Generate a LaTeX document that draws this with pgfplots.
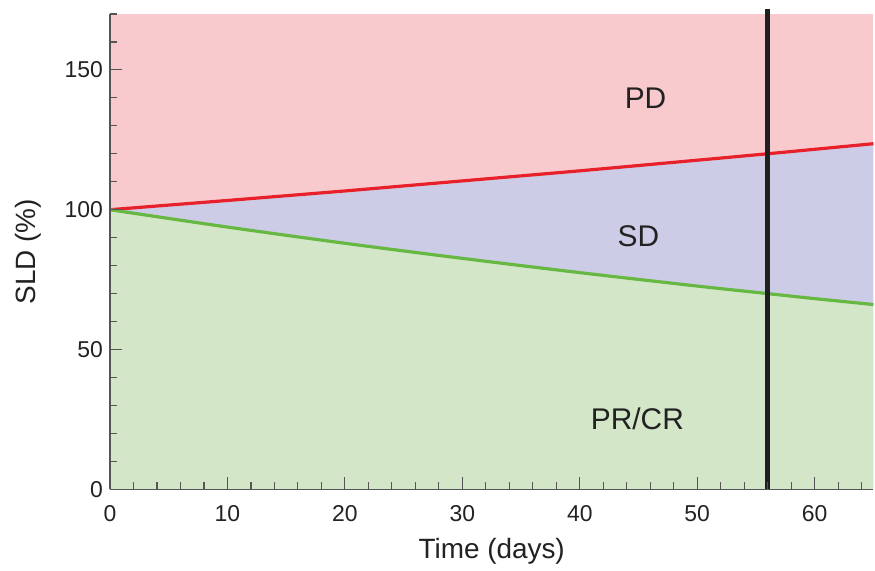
\documentclass[border=0pt]{standalone}
\usepackage{fontspec}
\setmainfont{Liberation Sans}
\usepackage{pgfplots}
\pgfplotsset{compat=1.18}
\definecolor{pdfill}{HTML}{F8CACD}
\definecolor{sdfill}{HTML}{CDCCE7}
\definecolor{crfill}{HTML}{D3E7C8}
\definecolor{redline}{HTML}{E8202A}
\definecolor{greenline}{HTML}{66B843}
\definecolor{axgray}{HTML}{555555}
\definecolor{txt}{HTML}{222222}

\begin{document}
\begin{tikzpicture}
\begin{axis}[
  scale only axis, width=383pt, height=238.5pt,
  xmin=0, xmax=65, ymin=0, ymax=170,
  axis lines*=left, axis line style={axgray, line width=0.8pt},
  tick style={axgray, line width=0.6pt}, tick align=inside,
  major tick length=6pt, minor tick length=3.5pt,
  xtick={0,10,...,60}, ytick={0,50,100,150},
  minor xtick={2,4,...,64}, minor ytick={10,20,...,170},
  ticklabel style={font=\fontsize{11.5}{13}\selectfont, text=txt},
  xticklabel style={yshift=-4.5pt},
  /pgf/number format/assume math mode=true,
  xlabel={Time (days)}, ylabel={SLD (\%)},
  label style={font=\fontsize{14}{16}\selectfont, text=txt},
  xlabel style={yshift=-1.5pt}, ylabel style={yshift=5pt, name=yl},
  clip=false, axis on top,
]
\addplot[fill=pdfill, draw=none] coordinates {(0,0) (65,0) (65,170) (0,170)} -- cycle;
\addplot[fill=sdfill, draw=none] coordinates {
  (0,100) (10,103.3) (20,106.7) (30,110.3) (40,113.9) (50,117.7) (56,120) (60,121.6) (65,123.6)
  (65,66.1) (60,68.2) (56,70.0) (50,72.7) (40,77.5) (30,82.6) (20,88.0) (10,93.8) (0,100)} -- cycle;
\addplot[fill=crfill, draw=none] coordinates {
  (0,100) (10,93.8) (20,88.0) (30,82.6) (40,77.5) (50,72.7) (56,70.0) (60,68.2) (65,66.1)} |- (axis cs:0,0) -- cycle;
\addplot[redline, line width=1.6pt] coordinates {
  (0,100) (10,103.3) (20,106.7) (30,110.3) (40,113.9) (50,117.7) (56,120) (60,121.6) (65,123.6)};
\addplot[greenline, line width=1.6pt, smooth] coordinates {
  (0,100) (10,93.8) (20,88.0) (30,82.6) (40,77.5) (50,72.7) (56,70.0) (60,68.2) (65,66.1)};
\addplot[black!88, line width=2.5pt] coordinates {(56,0) (56,171.8)};
\node[font=\fontsize{15}{16}\selectfont, text=txt] at (axis cs:45.6,140) {PD};
\node[font=\fontsize{15}{16}\selectfont, text=txt] at (axis cs:45,90.5) {SD};
\node[font=\fontsize{15}{16}\selectfont, text=txt] at (axis cs:44.9,25.3) {PR/CR};
\end{axis}
\path (yl.north) ++(-4pt,0);
\path (current axis.north) ++(0,7pt);
\end{tikzpicture}
\end{document}
